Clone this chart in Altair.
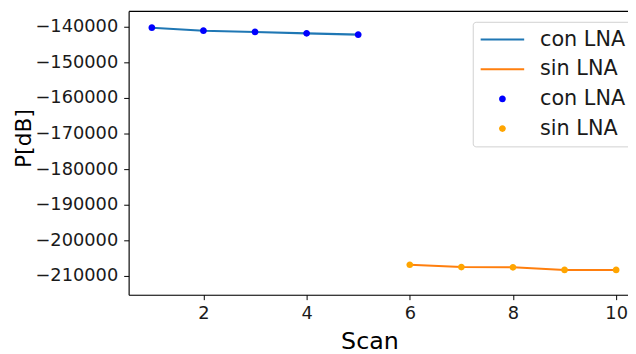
import altair as alt
import pandas as pd

# ---- data ----
scan_con = [1, 2, 3, 4, 5]
p_con = [-140280, -141110, -141470, -141860, -142220]
scan_sin = [6, 7, 8, 9, 10]
p_sin = [-206860, -207500, -207580, -208330, -208330]

x_ticks = [2, 4, 6, 8, 10]
y_ticks = [-210000, -200000, -190000, -180000, -170000, -160000, -150000, -140000]

legend_keys = ["con_line", "sin_line", "con_pt", "sin_pt"]
legend_colors = ["#1f77b4", "#ff7f0e", "#0000ff", "#ffa500"]

rows = []
for s, v in zip(scan_con, p_con):
    rows.append({"scan": s, "p": v, "series": "con", "key": "con_pt"})
for s, v in zip(scan_sin, p_sin):
    rows.append({"scan": s, "p": v, "series": "sin", "key": "sin_pt"})
df = pd.DataFrame(rows)

FONT = "DejaVu Sans"
BAR = "M-1,-0.045H1V0.045H-1Z"
CIRC = "M-0.155,0A0.155,0.155,0,1,1,0.155,0A0.155,0.155,0,1,1,-0.155,0Z"

xscale = alt.Scale(domain=[0.55, 10.23], nice=False, zero=False)
yscale = alt.Scale(domain=[-215278, -135556], nice=False, zero=False)

x_bottom = alt.X(
    "scan:Q", scale=xscale,
    axis=alt.Axis(
        orient="bottom", values=x_ticks, format="d", grid=False,
        title="Scan", titleFont=FONT, titleFontSize=24, titleFontWeight="normal",
        titleColor="black", titleX=243.5, titleY=54, titleAlign="center",
        titleBaseline="alphabetic",
        labelFont=FONT, labelFontSize=18, labelColor="#1a1a1a", labelPadding=5,
        tickSize=5, tickColor="black", domainColor="black", domainWidth=1.1,
        labelFlush=False,
    ),
)
x_top = alt.X(
    "scan:Q", scale=xscale,
    axis=alt.Axis(orient="top", labels=False, ticks=False, title=None, grid=False,
                  domainColor="black", domainWidth=1.1),
)
y_left = alt.Y(
    "p:Q", scale=yscale,
    axis=alt.Axis(
        values=y_ticks, format="d", grid=False,
        title="P[dB]", titleFont=FONT, titleFontSize=22, titleFontWeight="normal",
        titleColor="black", titleX=-99, titleY=128.5, titleAngle=270,
        titleAlign="center", titleBaseline="alphabetic",
        labelFont=FONT, labelFontSize=18, labelColor="#1a1a1a", labelPadding=6,
        tickSize=5, tickColor="black", domainColor="black", domainWidth=1.1,
        labelFlush=False,
    ),
)

leg = alt.Legend(
    title=None, orient="none", legendX=348, legendY=11,
    labelExpr="indexof(datum.value, 'con') >= 0 ? 'con LNA' : 'sin LNA'",
    labelFont=FONT, labelFontSize=21, labelColor="#1a1a1a", labelLimit=300,
    symbolSize=1936, symbolStrokeWidth=0, symbolOffset=3, labelOffset=16,
    strokeColor="#d0d0d0", fillColor="white", cornerRadius=3, padding=5,
    clipHeight=26, rowPadding=4,
)

lines = alt.Chart(df).mark_line(strokeWidth=2.1).encode(
    x=x_bottom,
    y=y_left,
    stroke=alt.Stroke("series:N", scale=alt.Scale(domain=["con", "sin"], range=["#1f77b4", "#ff7f0e"]), legend=None),
)

points = alt.Chart(df).mark_point(filled=True, opacity=1, size=1936, strokeWidth=0).encode(
    x=x_top,
    y=alt.Y("p:Q", scale=yscale),
    fill=alt.Fill("key:N", scale=alt.Scale(domain=legend_keys, range=legend_colors), legend=leg),
    shape=alt.Shape("key:N", scale=alt.Scale(domain=legend_keys, range=[BAR, BAR, CIRC, CIRC]), legend=leg),
)

chart = alt.layer(lines, points).properties(
    width=505, height=287,
    autosize=alt.AutoSizeParams(type="none"),
    padding={"left": 122, "top": 1, "right": 0, "bottom": 58},
).configure_view(stroke=None).configure(background="white")

chart.save("out.html", embed_options={"renderer": "svg", "actions": False})
